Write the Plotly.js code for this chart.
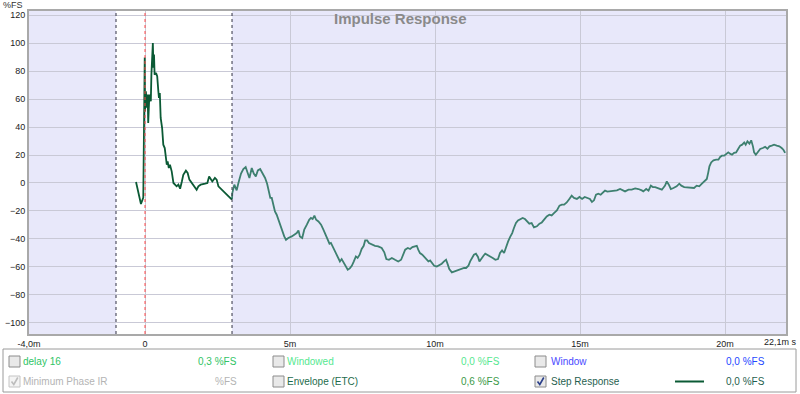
<!DOCTYPE html>
<html><head><meta charset="utf-8">
<script src="https://cdn.plot.ly/plotly-3.0.1.min.js"></script>
<style>html,body{margin:0;padding:0;background:#fff}#chart{width:800px;height:394px}</style>
</head><body><div id="chart"></div>
<script>
// Step response inside the window (ms, %FS)
const tWin = [-0.31,-0.14,-0.06,-0.02,-0.01,0.00,0.03,0.06,0.09,0.11,0.15,0.20,0.22,0.27,0.29,0.31,0.33,0.38,0.42,0.46,0.48,0.51,0.54,0.59,0.63,0.68,0.71,0.75,0.78,0.82,0.86,0.92,0.98,1.03,1.09,1.15,1.21,1.27,1.32,1.41,1.47,1.53,1.61,1.67,1.72,1.78,1.84,1.92,2.07,2.15,2.21,2.27,2.32,2.41,2.47,2.53,2.64,2.76,2.87,2.97,3.00];
const vWin = [0.7,-15.0,-10.5,45,89.8,51.2,65.5,53.9,63.2,42.9,63.2,58.4,77.5,100.1,82.5,91.8,77.5,78.7,76.3,65.5,60.8,64.4,46.5,39.3,27.4,25.0,17.9,13.1,15.5,10.7,13.1,8.3,0.0,-1.2,-2.4,-1.2,-4.1,1.1,5.9,8.8,7.2,2.4,0.0,-1.2,-3.6,-4.8,-2.4,-1.2,-0.5,0.0,4.7,2.4,1.1,3.6,2.4,-2.4,-4.8,-7.2,-9.6,-11.4,-11.5];
// Step response outside the window
const tOut = [3.00,3.01,3.08,3.16,3.22,3.31,3.39,3.47,3.54,3.60,3.68,3.75,3.82,3.89,3.97,4.04,4.14,4.21,4.28,4.32,4.37,4.42,4.48,4.54,4.60,4.66,4.73,4.80,4.86,4.94,5.06,5.15,5.23,5.29,5.34,5.42,5.49,5.58,5.66,5.72,5.78,5.84,5.90,5.98,6.07,6.15,6.23,6.30,6.36,6.41,6.49,6.59,6.67,6.72,6.78,6.85,6.92,6.99,7.06,7.13,7.20,7.27,7.33,7.40,7.47,7.54,7.59,7.66,7.72,7.82,7.93,8.04,8.16,8.25,8.32,8.41,8.51,8.62,8.73,8.83,8.91,8.97,9.06,9.14,9.22,9.29,9.37,9.42,9.48,9.56,9.63,9.69,9.77,9.83,9.90,9.97,10.06,10.15,10.23,10.31,10.38,10.44,10.49,10.58,10.66,10.75,10.84,10.92,11.00,11.07,11.15,11.21,11.28,11.34,11.41,11.48,11.53,11.60,11.67,11.73,11.80,11.90,11.99,12.08,12.17,12.24,12.31,12.38,12.45,12.52,12.59,12.66,12.72,12.79,12.86,12.93,13.02,13.10,13.18,13.25,13.33,13.41,13.51,13.60,13.68,13.76,13.85,13.94,14.02,14.10,14.20,14.29,14.37,14.45,14.54,14.63,14.71,14.79,14.89,14.98,15.07,15.16,15.25,15.34,15.41,15.48,15.55,15.63,15.71,15.78,15.86,15.94,16.03,16.15,16.27,16.38,16.47,16.55,16.67,16.78,16.90,17.01,17.13,17.18,17.28,17.36,17.44,17.51,17.59,17.70,17.82,17.93,17.99,18.06,18.13,18.22,18.33,18.42,18.49,18.59,18.70,18.82,18.93,19.02,19.11,19.20,19.28,19.37,19.42,19.46,19.52,19.60,19.69,19.77,19.83,19.89,19.97,20.06,20.11,20.17,20.24,20.31,20.38,20.45,20.52,20.59,20.66,20.71,20.77,20.84,20.90,20.96,21.00,21.06,21.13,21.21,21.30,21.38,21.46,21.53,21.61,21.69,21.78,21.87,21.95,22.01,22.07];
const vOut = [-11.5,-7.2,-1.2,-5.3,0.0,6.7,10.0,11.4,7.2,3.6,10.7,6.7,4.7,9.0,10.0,7.6,3.6,-0.5,-7.2,-10.7,-10.7,-15.5,-20.3,-22.7,-26.3,-29.8,-34.6,-38.2,-40.6,-39.3,-38.2,-37.0,-35.8,-33.9,-38.2,-39.3,-33.4,-29.8,-26.3,-25.0,-25.8,-23.4,-26.3,-27.5,-29.8,-33.4,-37.0,-40.6,-43.4,-42.9,-46.5,-50.1,-53.6,-56.1,-54.4,-57.2,-60.1,-62.0,-61.1,-59.2,-56.1,-52.5,-53.6,-51.3,-47.2,-44.9,-41.1,-41.1,-42.9,-44.1,-44.9,-45.4,-46.5,-49.6,-54.4,-54.9,-53.6,-54.9,-56.1,-54.9,-51.3,-47.7,-46.5,-47.2,-45.8,-45.4,-44.9,-47.7,-50.1,-51.3,-52.9,-54.9,-56.1,-55.4,-57.7,-59.2,-59.7,-58.9,-57.7,-56.1,-54.9,-58.4,-61.5,-63.9,-63.2,-62.5,-62.0,-61.5,-60.8,-60.8,-59.2,-56.1,-53.6,-51.3,-50.6,-52.9,-56.1,-53.6,-52.0,-50.6,-51.3,-52.5,-53.6,-54.9,-54.4,-50.1,-48.2,-50.1,-45.4,-41.8,-38.6,-35.8,-32.2,-28.6,-26.8,-25.8,-25.0,-25.8,-27.5,-29.1,-28.6,-31.8,-31.0,-29.1,-28.2,-25.8,-23.9,-22.7,-23.2,-21.5,-19.6,-16.2,-15.5,-15.5,-13.9,-11.4,-9.1,-10.7,-11.4,-10.0,-11.4,-10.0,-10.7,-11.4,-13.6,-12.4,-8.4,-7.7,-8.4,-6.7,-5.5,-6.2,-6.0,-6.0,-5.3,-4.3,-5.5,-6.0,-4.8,-4.8,-3.9,-4.3,-5.3,-6.0,-4.3,-5.5,-1.9,-2.9,-2.9,-3.6,-4.8,-1.9,1.1,-1.2,-4.3,-3.6,-2.4,-0.5,-1.9,-2.9,-3.1,-2.9,-3.6,-1.9,-2.4,-0.5,1.1,2.9,7.6,11.9,14.7,16.2,16.7,16.7,18.6,19.5,19.5,21.5,21.9,21.0,20.2,21.5,21.9,24.3,26.7,27.4,29.0,27.4,29.8,28.1,30.5,26.2,21.9,20.2,21.9,24.3,25.0,25.8,24.5,26.2,26.7,27.4,26.7,26.2,25.0,23.8,21.5];
// Axis ticks
const xTickVals = [-4, 0, 5, 10, 15, 20];
const xTickText = ['-4,0m', '0', '5m', '10m', '15m', '20m'];
const xEndLabel = '22,1m s';
const yTickVals = [-100, -80, -60, -40, -20, 0, 20, 40, 60, 80, 100, 120];
// Window markers (ms)
const windowStart = -1.0, windowEnd = 3.0, refTime = 0;
// Legend rows
const legendItems = [
  {label:'delay 16', value:'0,3 %FS', col:0, row:0, checked:false, color:'#2fc465', vcolor:'#2fc465'},
  {label:'Minimum Phase IR', value:'%FS', col:0, row:1, checked:true, dim:true, color:'#b4b4b4', vcolor:'#b4b4b4'},
  {label:'Windowed', value:'0,0 %FS', col:1, row:0, checked:false, color:'#55e890', vcolor:'#55e890'},
  {label:'Envelope (ETC)', value:'0,6 %FS', col:1, row:1, checked:false, color:'#1d6b4c', vcolor:'#3a9a48'},
  {label:'Window', value:'0,0 %FS', col:2, row:0, checked:false, color:'#4a4aff', vcolor:'#2448ff'},
  {label:'Step Response', value:'0,0 %FS', col:2, row:1, checked:true, color:'#1f5f4f', vcolor:'#1f5f4f', sample:true}
];

const L = 29, R = 786, T = 11, B = 334;
const px = x => (x - L) / (R - L);
const py = y => (B - y) / (B - T);
const FONT = 'Liberation Sans, Arial, sans-serif';

const shapes = [
  {type:'rect', xref:'x', yref:'paper', x0:windowStart, x1:windowEnd, y0:0, y1:1, fillcolor:'#ffffff', line:{width:0}, layer:'below'},
  {type:'line', xref:'x', yref:'paper', x0:windowStart, x1:windowStart, y0:0, y1:1, line:{color:'#333344', width:1, dash:'dot'}},
  {type:'line', xref:'x', yref:'paper', x0:windowEnd, x1:windowEnd, y0:0, y1:1, line:{color:'#333344', width:1, dash:'dot'}},
  {type:'line', xref:'x', yref:'paper', x0:refTime, x1:refTime, y0:0, y1:1, line:{color:'#ff4848', width:1, dash:'dot'}},
  // legend panel
  {type:'rect', xref:'paper', yref:'paper', x0:px(3), x1:px(796), y0:py(349), y1:py(392), line:{color:'#9a9a9a', width:1}, fillcolor:'#ffffff'}
];
const annotations = [
  {xref:'paper', yref:'paper', x:px(400), y:py(18), text:'Impulse Response', showarrow:false, xanchor:'center', yanchor:'middle', font:{family:FONT, size:15, color:'#8a8a8a', weight:'bold'}},
  {xref:'paper', yref:'paper', x:px(1), y:py(5), text:'%FS', showarrow:false, xanchor:'left', yanchor:'middle', font:{family:FONT, size:9, color:'#333'}},
  {xref:'paper', yref:'paper', x:px(799), y:py(342), text:xEndLabel, showarrow:false, xanchor:'right', yanchor:'middle', font:{family:FONT, size:9, color:'#222'}}
];
const colBox = [9, 273, 535], colText = [21, 285, 549], colVal = [239, 502, 767], rowY = [361.5, 381.5];
legendItems.forEach(it => {
  const bx = colBox[it.col], cy = rowY[it.row];
  shapes.push({type:'rect', xref:'paper', yref:'paper', x0:px(bx), x1:px(bx+11), y0:py(cy-5.5), y1:py(cy+5.5), line:{color: it.dim ? '#c4c4c4' : '#8c8c8c', width:1}, fillcolor: it.dim ? '#f4f4f4' : '#e9e9e9'});
  if (it.checked) {
    const p = `M ${px(bx+2.5)} ${py(cy)} L ${px(bx+4.8)} ${py(cy+3)} L ${px(bx+8.8)} ${py(cy-4)}`;
    shapes.push({type:'path', xref:'paper', yref:'paper', path:p, line:{color: it.dim ? '#bdbdbd' : '#2a3f8a', width:1.6}});
  }
  annotations.push({xref:'paper', yref:'paper', x:px(colText[it.col]), y:py(cy), text:it.label, showarrow:false, xanchor:'left', yanchor:'middle', font:{family:FONT, size:10, color:it.color}});
  annotations.push({xref:'paper', yref:'paper', x:px(colVal[it.col]), y:py(cy), text:it.value, showarrow:false, xanchor:'right', yanchor:'middle', font:{family:FONT, size:10, color:it.vcolor}});
  if (it.sample) shapes.push({type:'line', xref:'paper', yref:'paper', x0:px(675), x1:px(704), y0:py(cy), y1:py(cy), line:{color:'#0b5a35', width:2}});
});

const traces = [
  {x:tOut, y:vOut, type:'scatter', mode:'lines', line:{color:'#3e8070', width:1.8}, hoverinfo:'skip'},
  {x:tWin, y:vWin, type:'scatter', mode:'lines', line:{color:'#0b5a35', width:1.8}, hoverinfo:'skip'}
];
const layout = {
  width:800, height:394,
  margin:{l:L, r:800-R, t:T, b:394-B, pad:0},
  paper_bgcolor:'#ffffff', plot_bgcolor:'#e8e8fa',
  showlegend:false,
  xaxis:{range:[-4, 22.1], tickvals:xTickVals, ticktext:xTickText, ticklabeloverflow:'allow', showgrid:true, gridcolor:'#c9c9d6', gridwidth:1,
    zeroline:false, showline:true, mirror:true, linecolor:'#a9a9a9', linewidth:2, ticks:'', tickfont:{family:FONT, size:9, color:'#222'}, fixedrange:true},
  yaxis:{range:[-108, 123], tickvals:yTickVals, showgrid:true, gridcolor:'#c9c9d6', gridwidth:1,
    zeroline:false, showline:true, mirror:true, linecolor:'#a9a9a9', linewidth:2, ticks:'', tickfont:{family:FONT, size:9, color:'#222'}, fixedrange:true},
  shapes:shapes, annotations:annotations
};
Plotly.newPlot('chart', traces, layout, {displayModeBar:false, staticPlot:true});
</script>
</body></html>
